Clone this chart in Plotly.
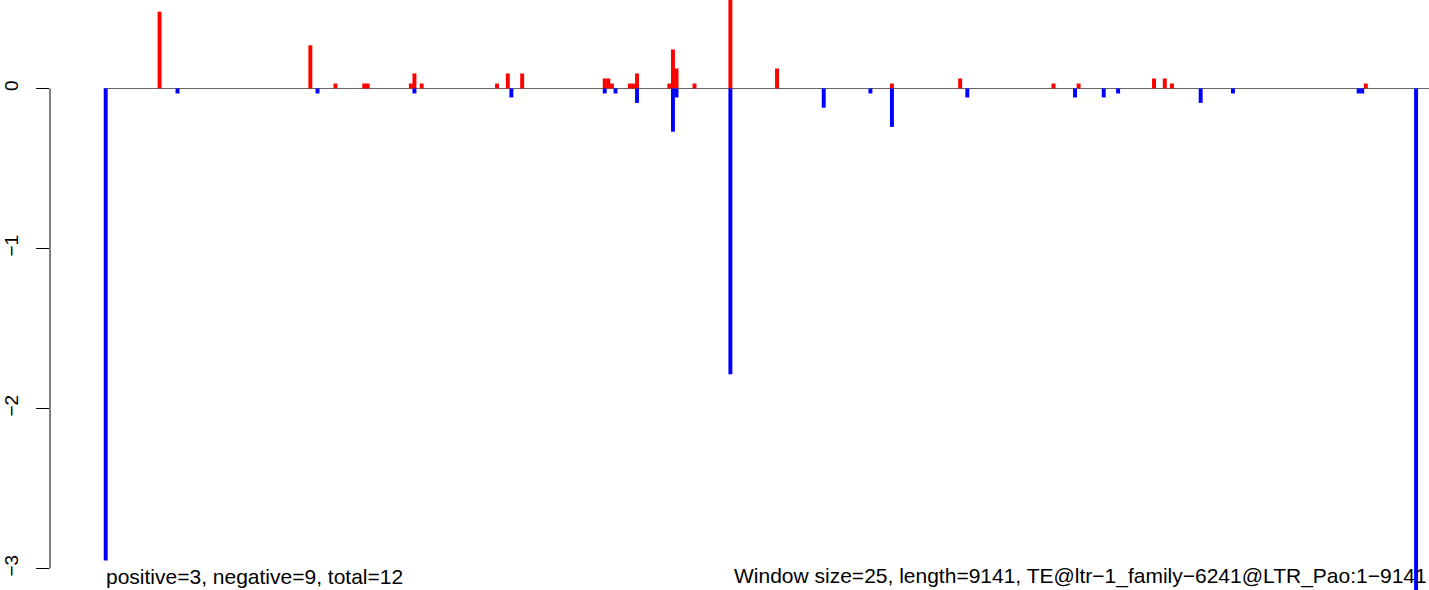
import plotly.graph_objects as go

# window indices (0-based, window size 25) and values
pos_windows = [15, 57, 64, 72, 73, 85, 86, 88, 109, 112, 116, 139, 140, 141, 146, 147, 148,
               157, 158, 159, 164, 174, 187, 219, 238, 264, 271, 292, 295, 297, 351]
pos_values = [0.48, 0.27, 0.031, 0.031, 0.031, 0.031, 0.094, 0.031, 0.031, 0.094, 0.094,
              0.0625, 0.0625, 0.031, 0.031, 0.031, 0.094,
              0.031, 0.244, 0.125, 0.031, 0.8, 0.125, 0.031, 0.0625, 0.031, 0.031,
              0.0625, 0.0625, 0.031, 0.031]

neg_windows = [0, 20, 59, 86, 113, 139, 142, 148, 158, 159, 174, 200, 213, 219, 240, 270,
               278, 282, 305, 314, 349, 350, 365]
neg_values = [-2.95, -0.031, -0.031, -0.031, -0.056, -0.031, -0.031, -0.09, -0.27, -0.056,
              -1.786, -0.12, -0.031, -0.24, -0.056, -0.056, -0.056, -0.031, -0.09, -0.031,
              -0.031, -0.031, -3.2]

y_ticks = [0, -1, -2, -3]
y_tick_text = ["0", "\u22121", "\u22122", "\u22123"]

left_label = "positive=3, negative=9, total=12"
right_label = "Window size=25, length=9141, TE@ltr\u22121_family\u22126241@LTR_Pao:1\u22129141"

W, H = 1429, 590
bar_w = 1.1
FONT = "Liberation Sans, Arial, Helvetica"

fig = go.Figure()
fig.add_trace(go.Bar(x=pos_windows, y=pos_values, width=bar_w,
                     marker=dict(color="#ff0000", line=dict(width=0)), showlegend=False))
fig.add_trace(go.Bar(x=neg_windows, y=neg_values, width=bar_w,
                     marker=dict(color="#0000ff", line=dict(width=0)), showlegend=False))

# zero line
fig.add_shape(type="line", xref="x", yref="y", x0=-0.6, x1=368.6, y0=0, y1=0,
              line=dict(color="#666666", width=1.2), layer="below")
# y axis line (spans tick range, R style)
fig.add_shape(type="line", xref="paper", yref="y", x0=0, x1=0, y0=0, y1=-3,
              line=dict(color="black", width=1))

fig.add_annotation(text=left_label, xref="paper", yref="paper",
                   x=(104 - 50) / (W - 50), y=0, xanchor="left", yanchor="bottom",
                   showarrow=False, font=dict(family=FONT, size=21, color="black"))
fig.add_annotation(text=right_label, xref="paper", yref="paper",
                   x=1.0, y=0, xanchor="right", yanchor="bottom",
                   showarrow=False, font=dict(family=FONT, size=21, color="black"))

fig.update_layout(
    width=W, height=H,
    margin=dict(l=50, r=0, t=0, b=0),
    paper_bgcolor="white", plot_bgcolor="white",
    barmode="overlay",
    xaxis=dict(range=[-15.52, 368.6], visible=False, showgrid=False, zeroline=False),
    yaxis=dict(range=[-3.134, 0.553], showgrid=False, zeroline=False, showline=False,
               tickmode="array", tickvals=y_ticks, ticktext=y_tick_text,
               ticks="outside", ticklen=13, tickwidth=1, tickcolor="black",
               ticklabelstandoff=10,
               tickangle=-90, tickfont=dict(family=FONT, size=19, color="black")),
    font=dict(family=FONT),
)

fig.write_html("out.html", config={"displayModeBar": False},
               post_script="document.body.style.margin='0px';")
